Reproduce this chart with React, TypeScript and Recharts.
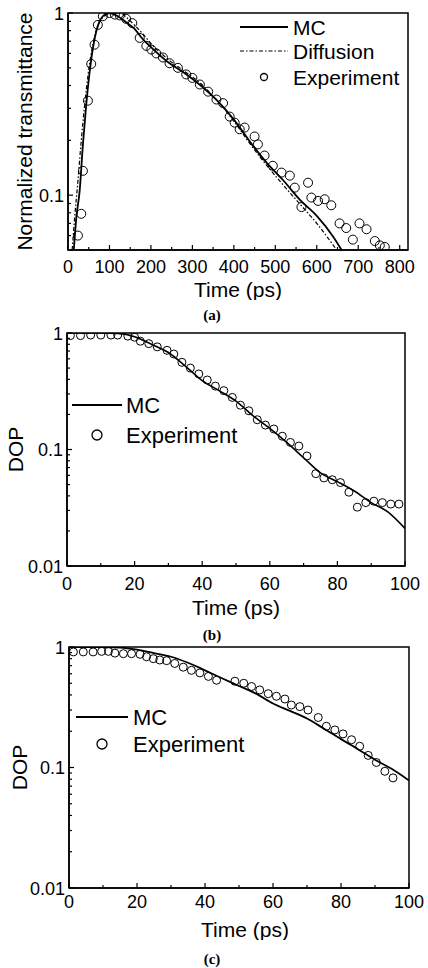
import { ComposedChart, Line, Scatter, XAxis, YAxis, ReferenceArea, Legend, Label } from 'recharts';

// (a) normalized transmittance vs time (ps)
const aMcTime = [14, 20, 28, 36, 44, 52, 60, 68, 76, 84, 92, 100, 120, 140, 160, 180, 200, 240, 280, 320, 360, 400, 440, 480, 520, 560, 600, 640, 660];
const aMcVal = [0.05, 0.075, 0.105, 0.19, 0.315, 0.47, 0.64, 0.79, 0.9, 0.96, 0.99, 1.0, 0.96, 0.89, 0.82, 0.72, 0.65, 0.54, 0.47, 0.4, 0.33, 0.26, 0.195, 0.15, 0.12, 0.094, 0.077, 0.059, 0.05];
const aDiffTime = [10, 16, 24, 32, 40, 48, 56, 64, 72, 80, 90, 100, 110, 120, 130, 140, 160, 180, 200, 240, 280, 320, 360, 400, 440, 480, 520, 560, 600, 640, 648];
const aDiffVal = [0.05, 0.075, 0.12, 0.2, 0.31, 0.45, 0.6, 0.74, 0.85, 0.92, 0.97, 0.99, 1.0, 1.0, 0.99, 0.95, 0.86, 0.77, 0.68, 0.56, 0.48, 0.41, 0.33, 0.255, 0.19, 0.145, 0.113, 0.089, 0.07, 0.053, 0.05];
const aExpTime = [24, 32, 36, 48, 56, 64, 72, 84, 100, 113, 125, 140, 155, 173, 189, 201, 213, 229, 245, 265, 285, 300, 318, 338, 358, 374, 390, 402, 414, 426, 450, 458, 474, 494, 515, 535, 547, 563, 579, 587, 603, 619, 635, 655, 671, 687, 703, 720, 740, 752, 764];
const aExpVal = [0.06, 0.079, 0.136, 0.33, 0.525, 0.67, 0.86, 0.96, 1.0, 0.98, 0.97, 0.93, 0.88, 0.73, 0.66, 0.63, 0.6, 0.57, 0.53, 0.5, 0.46, 0.44, 0.405, 0.37, 0.335, 0.32, 0.27, 0.25, 0.23, 0.235, 0.21, 0.19, 0.165, 0.145, 0.133, 0.128, 0.11, 0.086, 0.117, 0.097, 0.093, 0.095, 0.088, 0.07, 0.066, 0.057, 0.07, 0.065, 0.056, 0.053, 0.052];

// (b) DOP vs time (ps)
const bMcTime = [0, 5, 10, 15, 20, 25, 30, 35, 40, 45, 50, 55, 60, 65, 70, 75, 80, 85, 90, 95, 100];
const bMcVal = [1.0, 1.0, 1.0, 0.99, 0.93, 0.8, 0.68, 0.52, 0.39, 0.32, 0.26, 0.195, 0.152, 0.115, 0.085, 0.063, 0.053, 0.044, 0.035, 0.029, 0.021];
const bExpTime = [1, 4, 7, 10, 13, 15, 18, 20, 21.7, 24.2, 26.7, 29.6, 31.6, 34, 36.5, 39, 41.5, 43.9, 46.4, 48.9, 51.3, 53.8, 56.3, 58.7, 61.2, 63.7, 66.1, 68.6, 71, 73.6, 76, 78.5, 80.9, 83.4, 85.9, 88.4, 90.8, 93.3, 95.8, 98.2];
const bExpVal = [0.95, 0.95, 0.96, 0.96, 0.96, 0.96, 0.94, 0.92, 0.85, 0.81, 0.76, 0.71, 0.66, 0.56, 0.5, 0.445, 0.395, 0.35, 0.32, 0.28, 0.24, 0.215, 0.18, 0.162, 0.15, 0.13, 0.115, 0.107, 0.088, 0.062, 0.057, 0.055, 0.052, 0.043, 0.032, 0.035, 0.036, 0.035, 0.034, 0.034];

// (c) DOP vs time (ps)
const cMcTime = [0, 5, 10, 15, 20, 25, 30, 35, 40, 45, 50, 55, 60, 65, 70, 75, 80, 85, 90, 95, 100];
const cMcVal = [1.0, 1.0, 1.0, 0.99, 0.95, 0.89, 0.83, 0.74, 0.64, 0.55, 0.475, 0.41, 0.34, 0.295, 0.255, 0.21, 0.172, 0.142, 0.116, 0.097, 0.078];
const cExpTime = [1.3, 4.2, 7.1, 9.6, 11.6, 13.5, 16, 18.4, 20.9, 22.8, 24.8, 26.7, 28.7, 31.1, 33.6, 36, 38.5, 41, 43.4, 48.8, 51.4, 53.7, 56.1, 58.6, 61, 63.5, 65.4, 67.9, 70.3, 73.3, 75.7, 78.2, 80.6, 83.1, 85.5, 88, 90.4, 92.9, 95.3];
const cExpVal = [0.91, 0.91, 0.91, 0.92, 0.92, 0.89, 0.88, 0.88, 0.87, 0.83, 0.8, 0.78, 0.77, 0.73, 0.68, 0.64, 0.61, 0.57, 0.53, 0.52, 0.5, 0.47, 0.44, 0.41, 0.39, 0.37, 0.33, 0.32, 0.3, 0.26, 0.22, 0.205, 0.19, 0.17, 0.15, 0.126, 0.11, 0.093, 0.082];

// axis ticks
const aXMajor = [0, 100, 200, 300, 400, 500, 600, 700, 800];
const aXMinor = [50, 150, 250, 350, 450, 550, 650, 750];
const dopXMajor = [0, 20, 40, 60, 80, 100];
const dopXMinor = [10, 30, 50, 70, 90];
const aYMajor = [0.1, 1];
const aYMinor = [0.06, 0.07, 0.08, 0.09, 0.2, 0.3, 0.4, 0.5, 0.6, 0.7, 0.8, 0.9];
const dopYMajor = [0.01, 0.1, 1];
const dopYMinor = [0.02, 0.03, 0.04, 0.05, 0.06, 0.07, 0.08, 0.09, 0.2, 0.3, 0.4, 0.5, 0.6, 0.7, 0.8, 0.9];

const FONT = '"Liberation Sans", Arial, Helvetica, sans-serif';

const pts = (t: number[], v: number[]) => t.map((x, i) => ({ t: x, v: v[i] }));

function xTick(majors: number[], dy: number) {
  return (p: any) => {
    const v = p.payload.value;
    const major = majors.includes(v);
    return (
      <g>
        <line x1={p.x} y1={p.y} x2={p.x} y2={p.y - (major ? 5 : 3)} stroke="#000" strokeWidth={1.2} />
        {major && (
          <text x={p.x} y={p.y + dy} textAnchor="middle" fontSize={18} fill="#000" fontFamily={FONT}>
            {v}
          </text>
        )}
      </g>
    );
  };
}

function yTick(majors: number[]) {
  return (p: any) => {
    const v = p.payload.value;
    const major = majors.includes(v);
    return (
      <g>
        <line x1={p.x} y1={p.y} x2={p.x + (major ? 5 : 3)} y2={p.y} stroke="#000" strokeWidth={1.2} />
        {major && (
          <text x={p.x - 4} y={p.y + 6.5} textAnchor="end" fontSize={18} fill="#000" fontFamily={FONT}>
            {v}
          </text>
        )}
      </g>
    );
  };
}

type LegendRow = { name: string; kind: 'solid' | 'dashdot' | 'circle'; y: number };

function legendBox(rows: LegendRow[], x1: number, x2: number, textX: number, fontSize: number, r: number, w: number, h: number) {
  return () => (
    <svg width={w} height={h} style={{ display: 'block' }}>
      {rows.map((row) => (
        <g key={row.name}>
          {row.kind === 'solid' && <line x1={x1} x2={x2} y1={row.y} y2={row.y} stroke="#000" strokeWidth={1.8} />}
          {row.kind === 'dashdot' && (
            <line x1={x1} x2={x2} y1={row.y} y2={row.y} stroke="#000" strokeWidth={1.2} strokeDasharray="4 2 1.5 2" />
          )}
          {row.kind === 'circle' && <circle cx={(x1 + x2) / 2} cy={row.y} r={r} fill="none" stroke="#000" strokeWidth={1.3} />}
          <text x={textX} y={row.y + fontSize * 0.36} fontSize={fontSize} fill="#000" fontFamily={FONT}>
            {row.name}
          </text>
        </g>
      ))}
    </svg>
  );
}

const ring = (r: number) => (p: any) => <circle cx={p.cx} cy={p.cy} r={r} fill="none" stroke="#000" strokeWidth={1} />;

const caption = (text: string, center: number) => (
  <div
    style={{
      position: 'absolute',
      left: 0,
      width: 424,
      top: center - 8,
      textAlign: 'center',
      fontFamily: '"Liberation Serif", "Times New Roman", serif',
      fontWeight: 'bold',
      fontSize: 15,
      lineHeight: '16px',
    }}
  >
    {text}
  </div>
);

export default function App() {
  return (
    <div style={{ position: 'absolute', left: 0, top: 0, width: 428, height: 968, background: '#fff', fontFamily: FONT, overflow: 'hidden' }}>
      {/* (a) transmittance */}
      <div style={{ position: 'absolute', left: 0, top: 0 }}>
        <ComposedChart width={428} height={300} margin={{ top: 13, right: 20, left: 0, bottom: 0 }}>
          <XAxis
            type="number"
            dataKey="t"
            domain={[0, 820]}
            ticks={[...aXMajor, ...aXMinor]}
            interval={0}
            height={50}
            tickSize={0}
            tickMargin={0}
            tickLine={false}
            tick={xTick(aXMajor, 23)}
            axisLine={{ stroke: '#000', strokeWidth: 1.5 }}
            allowDataOverflow
          >
            <Label value="Time (ps)" position="insideBottom" offset={3} fontSize={21} fill="#000" />
          </XAxis>
          <YAxis
            type="number"
            scale="log"
            domain={[0.05, 1]}
            ticks={[...aYMajor, ...aYMinor]}
            interval={0}
            width={68}
            tickSize={0}
            tickMargin={0}
            tickLine={false}
            tick={yTick(aYMajor)}
            axisLine={{ stroke: '#000', strokeWidth: 1.5 }}
            allowDataOverflow
          >
            <Label
              value="Normalized transmittance"
              angle={-90}
              position="insideLeft"
              offset={25}
              fontSize={21}
              fill="#000"
              style={{ textAnchor: 'middle' }}
            />
          </YAxis>
          <Line data={pts(aMcTime, aMcVal)} dataKey="v" type="monotone" stroke="#000" strokeWidth={1.8} dot={false} isAnimationActive={false} />
          <Line
            data={pts(aDiffTime, aDiffVal)}
            dataKey="v"
            type="monotone"
            stroke="#000"
            strokeWidth={1.2}
            strokeDasharray="4 2 1.5 2"
            dot={false}
            isAnimationActive={false}
          />
          <Scatter data={pts(aExpTime, aExpVal)} dataKey="v" shape={ring(4.5)} isAnimationActive={false} />
          <ReferenceArea x1={0} x2={820} y1={0.05} y2={1} fill="none" stroke="#000" strokeWidth={1.5} ifOverflow="visible" />
          <Legend
            layout="vertical"
            align="center"
            verticalAlign="middle"
            wrapperStyle={{ left: 0, top: 0, width: 428, height: 100 }}
            content={legendBox(
              [
                { name: 'MC', kind: 'solid', y: 27 },
                { name: 'Diffusion', kind: 'dashdot', y: 51 },
                { name: 'Experiment', kind: 'circle', y: 77 },
              ],
              240,
              288,
              293,
              21,
              3.5,
              428,
              100,
            )}
          />
        </ComposedChart>
      </div>
      {caption('(a)', 315)}

      {/* (b) DOP */}
      <div style={{ position: 'absolute', left: 0, top: 320 }}>
        <ComposedChart width={428} height={305} margin={{ top: 13, right: 23, left: 0, bottom: 0 }}>
          <XAxis
            type="number"
            dataKey="t"
            domain={[0, 100]}
            ticks={[...dopXMajor, ...dopXMinor]}
            interval={0}
            height={59}
            tickSize={0}
            tickMargin={0}
            tickLine={false}
            tick={xTick(dopXMajor, 24)}
            axisLine={{ stroke: '#000', strokeWidth: 1.5 }}
            allowDataOverflow
          >
            <Label value="Time (ps)" position="insideBottom" offset={10} fontSize={21} fill="#000" />
          </XAxis>
          <YAxis
            type="number"
            scale="log"
            domain={[0.01, 1]}
            ticks={[...dopYMajor, ...dopYMinor]}
            interval={0}
            width={67}
            tickSize={0}
            tickMargin={0}
            tickLine={false}
            tick={yTick(dopYMajor)}
            axisLine={{ stroke: '#000', strokeWidth: 1.5 }}
            allowDataOverflow
          >
            <Label value="DOP" angle={-90} position="insideLeft" offset={16} fontSize={21} fill="#000" style={{ textAnchor: 'middle' }} />
          </YAxis>
          <Line data={pts(bMcTime, bMcVal)} dataKey="v" type="monotone" stroke="#000" strokeWidth={1.6} dot={false} isAnimationActive={false} />
          <Scatter data={pts(bExpTime, bExpVal)} dataKey="v" shape={ring(4)} isAnimationActive={false} />
          <ReferenceArea x1={0} x2={100} y1={0.01} y2={1} fill="none" stroke="#000" strokeWidth={1.5} ifOverflow="visible" />
          <Legend
            layout="vertical"
            align="center"
            verticalAlign="middle"
            wrapperStyle={{ left: 0, top: 0, width: 428, height: 140 }}
            content={legendBox(
              [
                { name: 'MC', kind: 'solid', y: 85 },
                { name: 'Experiment', kind: 'circle', y: 115 },
              ],
              72,
              122,
              126,
              22,
              5,
              428,
              140,
            )}
          />
        </ComposedChart>
      </div>
      {caption('(b)', 635)}

      {/* (c) DOP */}
      <div style={{ position: 'absolute', left: 0, top: 630 }}>
        <ComposedChart width={428} height={310} margin={{ top: 17, right: 19, left: 0, bottom: 0 }}>
          <XAxis
            type="number"
            dataKey="t"
            domain={[0, 100]}
            ticks={[...dopXMajor, ...dopXMinor]}
            interval={0}
            height={52}
            tickSize={0}
            tickMargin={0}
            tickLine={false}
            tick={xTick(dopXMajor, 20)}
            axisLine={{ stroke: '#000', strokeWidth: 1.5 }}
            allowDataOverflow
          >
            <Label value="Time (ps)" position="insideBottom" offset={3} dx={6} fontSize={21} fill="#000" />
          </XAxis>
          <YAxis
            type="number"
            scale="log"
            domain={[0.01, 1]}
            ticks={[...dopYMajor, ...dopYMinor]}
            interval={0}
            width={69}
            tickSize={0}
            tickMargin={0}
            tickLine={false}
            tick={yTick(dopYMajor)}
            axisLine={{ stroke: '#000', strokeWidth: 1.5 }}
            allowDataOverflow
          >
            <Label value="DOP" angle={-90} position="insideLeft" offset={20} fontSize={21} fill="#000" style={{ textAnchor: 'middle' }} />
          </YAxis>
          <Line data={pts(cMcTime, cMcVal)} dataKey="v" type="monotone" stroke="#000" strokeWidth={1.8} dot={false} isAnimationActive={false} />
          <Scatter data={pts(cExpTime, cExpVal)} dataKey="v" shape={ring(4)} isAnimationActive={false} />
          <ReferenceArea x1={0} x2={100} y1={0.01} y2={1} fill="none" stroke="#000" strokeWidth={1.5} ifOverflow="visible" />
          <Legend
            layout="vertical"
            align="center"
            verticalAlign="middle"
            wrapperStyle={{ left: 0, top: 0, width: 428, height: 140 }}
            content={legendBox(
              [
                { name: 'MC', kind: 'solid', y: 87 },
                { name: 'Experiment', kind: 'circle', y: 114 },
              ],
              76,
              128,
              133,
              22,
              5,
              428,
              140,
            )}
          />
        </ComposedChart>
      </div>
      {caption('(c)', 959)}
    </div>
  );
}
